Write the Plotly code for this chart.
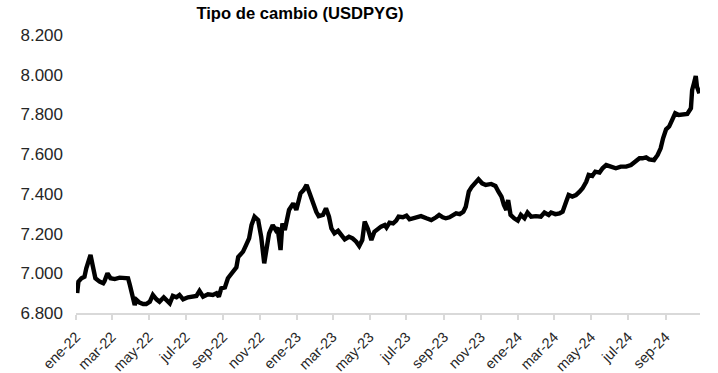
import plotly.graph_objects as go

dates = [
    "2022-01-03", "2022-01-05", "2022-01-10", "2022-01-15", "2022-01-18", "2022-01-25", "2022-01-29",
    "2022-02-02", "2022-02-09", "2022-02-15", "2022-02-17", "2022-02-22", "2022-02-27",
    "2022-03-06", "2022-03-14", "2022-03-22", "2022-03-28", "2022-03-31",
    "2022-04-03", "2022-04-05", "2022-04-08", "2022-04-11", "2022-04-16", "2022-04-22", "2022-04-27",
    "2022-05-03", "2022-05-08", "2022-05-14", "2022-05-19", "2022-05-26", "2022-05-31",
    "2022-06-05", "2022-06-10", "2022-06-16", "2022-06-21", "2022-06-27",
    "2022-07-05", "2022-07-13", "2022-07-19", "2022-07-24", "2022-07-30",
    "2022-08-07", "2022-08-15", "2022-08-21", "2022-08-25", "2022-08-29",
    "2022-09-04", "2022-09-09", "2022-09-17", "2022-09-23", "2022-09-26",
    "2022-10-04", "2022-10-09", "2022-10-14", "2022-10-18", "2022-10-23", "2022-10-29",
    "2022-11-03", "2022-11-08", "2022-11-12", "2022-11-16", "2022-11-22", "2022-11-27", "2022-11-30",
    "2022-12-05", "2022-12-08", "2022-12-12", "2022-12-19", "2022-12-26", "2022-12-31",
    "2023-01-07", "2023-01-12", "2023-01-17", "2023-01-22", "2023-01-27",
    "2023-02-02", "2023-02-06", "2023-02-13", "2023-02-18", "2023-02-23", "2023-02-27",
    "2023-03-04", "2023-03-10", "2023-03-15", "2023-03-21", "2023-03-28",
    "2023-04-03", "2023-04-09", "2023-04-14", "2023-04-19", "2023-04-23", "2023-04-28",
    "2023-05-04", "2023-05-09", "2023-05-15", "2023-05-20", "2023-05-26", "2023-05-29",
    "2023-06-03", "2023-06-09", "2023-06-14", "2023-06-18", "2023-06-25",
    "2023-07-01", "2023-07-06", "2023-07-14", "2023-07-25",
    "2023-08-03", "2023-08-11", "2023-08-19", "2023-08-24", "2023-08-30",
    "2023-09-04", "2023-09-10", "2023-09-15", "2023-09-21", "2023-09-27",
    "2023-10-03", "2023-10-07", "2023-10-12", "2023-10-17", "2023-10-23", "2023-10-28",
    "2023-11-03", "2023-11-09", "2023-11-18", "2023-11-25", "2023-11-30",
    "2023-12-05", "2023-12-09", "2023-12-13", "2023-12-16", "2023-12-20", "2023-12-26",
    "2024-01-01", "2024-01-06", "2024-01-12", "2024-01-17", "2024-01-23", "2024-01-31",
    "2024-02-08", "2024-02-14", "2024-02-21", "2024-02-25",
    "2024-03-03", "2024-03-10", "2024-03-15", "2024-03-21", "2024-03-25", "2024-03-31",
    "2024-04-06", "2024-04-12", "2024-04-17", "2024-04-23", "2024-04-27",
    "2024-05-03", "2024-05-08", "2024-05-15", "2024-05-20", "2024-05-26",
    "2024-06-03", "2024-06-11", "2024-06-19", "2024-06-28",
    "2024-07-06", "2024-07-14", "2024-07-20", "2024-07-25", "2024-07-31",
    "2024-08-05", "2024-08-13", "2024-08-19", "2024-08-24", "2024-08-28",
    "2024-09-02", "2024-09-07", "2024-09-12", "2024-09-17", "2024-09-23",
    "2024-10-02", "2024-10-07", "2024-10-13", "2024-10-15", "2024-10-18", "2024-10-21",
    "2024-10-23", "2024-10-27",
]

usdpyg = [
    6900, 6958, 6975, 6983, 7025, 7092, 7033,
    6975, 6958, 6950, 6960, 7000, 6975,
    6971, 6978, 6978, 6975, 6941,
    6899, 6857, 6840, 6866, 6852, 6845, 6845,
    6857, 6891, 6869, 6857, 6879, 6866,
    6849, 6886, 6879, 6891, 6869,
    6879, 6882, 6886, 6911, 6882,
    6894, 6891, 6899, 6882, 6924,
    6929, 6975, 7008, 7030, 7082,
    7109, 7142, 7176, 7243, 7285, 7268,
    7184, 7050, 7117, 7201, 7243, 7218, 7230,
    7117, 7251, 7218, 7319, 7352, 7319,
    7403, 7419, 7445, 7403, 7352,
    7310, 7288, 7294, 7327, 7285, 7226,
    7201, 7214, 7193, 7171, 7184,
    7176, 7159, 7137, 7167, 7260, 7226,
    7167, 7209, 7226, 7235, 7243, 7230,
    7255, 7251, 7265, 7285, 7282,
    7290, 7272, 7277, 7288,
    7277, 7268, 7282, 7294, 7282,
    7277, 7282, 7294, 7302, 7298,
    7310, 7335, 7411, 7436, 7453, 7473,
    7453, 7445, 7450, 7440, 7411,
    7386, 7344, 7319, 7369, 7294, 7277,
    7265, 7294, 7277, 7306, 7285, 7288,
    7285, 7306, 7294, 7306,
    7298, 7302, 7310, 7361, 7394, 7386,
    7394, 7411, 7428, 7461, 7495,
    7490, 7512, 7507, 7529, 7545,
    7537, 7529, 7537, 7537,
    7545, 7562, 7579, 7579, 7584,
    7574, 7570, 7596, 7629, 7680,
    7725, 7739, 7772, 7806, 7797,
    7797, 7802, 7831, 7923, 7957, 7994,
    7940, 7906,
]

tick_dates = [
    "2022-01-01", "2022-03-01", "2022-05-01", "2022-07-01", "2022-09-01", "2022-11-01",
    "2023-01-01", "2023-03-01", "2023-05-01", "2023-07-01", "2023-09-01", "2023-11-01",
    "2024-01-01", "2024-03-01", "2024-05-01", "2024-07-01", "2024-09-01",
]
tick_labels = [
    "ene-22", "mar-22", "may-22", "jul-22", "sep-22", "nov-22",
    "ene-23", "mar-23", "may-23", "jul-23", "sep-23", "nov-23",
    "ene-24", "mar-24", "may-24", "jul-24", "sep-24",
]
y_ticks = [6800, 7000, 7200, 7400, 7600, 7800, 8000, 8200]
y_labels = ["6.800", "7.000", "7.200", "7.400", "7.600", "7.800", "8.000", "8.200"]

FONT = "Liberation Sans, Arial, sans-serif"

fig = go.Figure()
fig.add_trace(go.Scatter(
    x=dates, y=usdpyg, mode="lines",
    line=dict(color="#000000", width=4.4),
    hoverinfo="x+y", showlegend=False,
))

fig.update_layout(
    width=718, height=373,
    margin=dict(l=76, r=18, t=35, b=60, autoexpand=False),
    paper_bgcolor="white", plot_bgcolor="white",
    font=dict(family=FONT, size=17, color="#262626"),
    title=dict(
        text="<b>Tipo de cambio (USDPYG)</b>",
        x=300 / 718, xanchor="center", xref="container",
        y=1 - 13 / 373, yanchor="middle", yref="container",
        font=dict(family=FONT, size=16.6, color="#000000"),
        automargin=False,
    ),
    xaxis=dict(
        type="date",
        range=["2022-01-01", "2024-10-28"],
        tickmode="array", tickvals=tick_dates, ticktext=tick_labels,
        tickangle=-45, automargin=False,
        showgrid=False, zeroline=False,
        showline=True, linecolor="#d9d9d9", linewidth=1.5,
        ticks="outside", ticklen=5, tickcolor="#d9d9d9", tickwidth=1.5,
        ticklabelstandoff=3,
        tickfont=dict(family=FONT, size=14.5, color="#262626"),
        fixedrange=True,
    ),
    yaxis=dict(
        range=[6800, 8200], automargin=False,
        tickmode="array", tickvals=y_ticks, ticktext=y_labels,
        showgrid=False, zeroline=False, showline=False,
        ticks="", ticklabelstandoff=12,
        tickfont=dict(family=FONT, size=17, color="#262626"),
        fixedrange=True,
    ),
)

fig.write_html(
    "out.html",
    config={"displayModeBar": False},
    post_script="document.body.style.margin='0';document.body.style.overflow='hidden';",
)
